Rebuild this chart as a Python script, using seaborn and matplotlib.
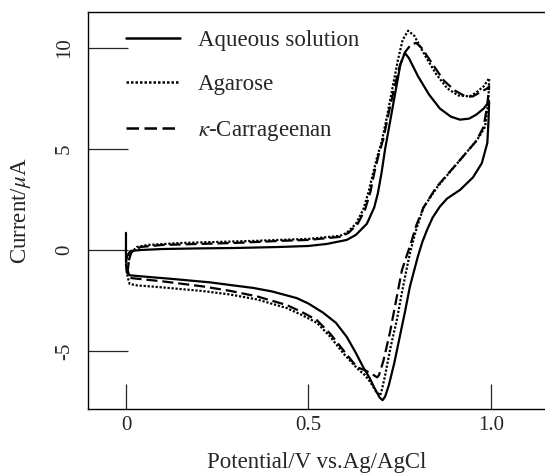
"""
plot.py — cyclic voltammograms in aqueous solution and in two gels
"""

import matplotlib
matplotlib.use("Agg")
import matplotlib.pyplot as plt
import seaborn as sns
import pandas as pd

# ---------------------------------------------------------------------------
# Data (potential in V vs. Ag/AgCl, current in µA)
# ---------------------------------------------------------------------------

AQ_E = [0.0, 0.0, 0.003, 0.012, 0.04, 0.1, 0.2, 0.3, 0.42, 0.5, 0.55, 0.605,
        0.63, 0.66, 0.68, 0.69, 0.70, 0.71, 0.725, 0.74, 0.752, 0.764, 0.775,
        0.8, 0.83, 0.86, 0.89, 0.915, 0.94, 0.96, 0.98, 0.995,
        0.993, 0.99, 0.975, 0.951, 0.915, 0.88, 0.86, 0.84, 0.825, 0.812,
        0.8, 0.778, 0.765, 0.75, 0.735, 0.72, 0.71, 0.703, 0.695, 0.68, 0.668,
        0.65, 0.63, 0.605, 0.575, 0.54, 0.5, 0.468, 0.4, 0.35, 0.285, 0.23,
        0.12, 0.04, 0.01, 0.002, 0.0]
AQ_I = [0.85, -0.6, -0.3, -0.05, 0.0, 0.05, 0.08, 0.1, 0.15, 0.2, 0.3, 0.5,
        0.75, 1.3, 2.1, 2.8, 3.8, 5.0, 6.5, 8.0, 9.2, 9.75, 9.5,
        8.6, 7.7, 7.0, 6.6, 6.45, 6.5, 6.7, 7.0, 7.35,
        6.3, 5.3, 4.3, 3.6, 2.97, 2.55, 2.15, 1.6, 1.0, 0.4,
        -0.3, -1.8, -3.0, -4.3, -5.6, -6.7, -7.25, -7.43, -7.3, -6.8, -6.35,
        -5.8, -5.1, -4.3, -3.6, -3.1, -2.65, -2.38, -2.05, -1.88, -1.73, -1.6,
        -1.42, -1.3, -1.25, -1.1, -0.7]

AG_E = [0.005, 0.01, 0.03, 0.06, 0.15, 0.25, 0.35, 0.42, 0.5, 0.586, 0.605,
        0.63, 0.65, 0.665, 0.677, 0.688, 0.70, 0.715, 0.73, 0.745, 0.758,
        0.773, 0.79, 0.82, 0.85, 0.88, 0.91, 0.942, 0.96, 0.98, 0.995,
        0.993, 0.984, 0.962, 0.915, 0.852, 0.815, 0.795, 0.78, 0.77, 0.755,
        0.742, 0.725, 0.71, 0.70, 0.696, 0.685, 0.67, 0.655, 0.633, 0.595,
        0.56, 0.523, 0.48, 0.44, 0.36, 0.285, 0.21, 0.1, 0.03, 0.01, 0.004,
        0.005]
AG_I = [-0.9, -0.2, 0.15, 0.25, 0.35, 0.4, 0.45, 0.5, 0.55, 0.7, 0.85,
        1.3, 2.0, 2.9, 3.8, 4.6, 5.3, 6.6, 8.0, 9.4, 10.4,
        10.85, 10.6, 9.6, 8.7, 8.0, 7.65, 7.6, 7.8, 8.1, 8.5,
        7.4, 6.1, 5.45, 4.45, 3.1, 2.1, 1.0, 0.0, -0.84, -2.2,
        -3.47, -4.8, -6.2, -7.0, -7.2, -7.0, -6.55, -6.2, -5.85, -5.1,
        -4.3, -3.6, -3.2, -2.87, -2.45, -2.2, -2.03, -1.85, -1.75, -1.68, -1.3,
        -0.9]

KC_E = [0.008, 0.015, 0.04, 0.1, 0.2, 0.3, 0.42, 0.5, 0.586, 0.61, 0.635,
        0.655, 0.67, 0.68, 0.692, 0.705, 0.72, 0.735, 0.75, 0.765, 0.78,
        0.795, 0.81, 0.84, 0.87, 0.9, 0.93, 0.95, 0.97, 0.99, 0.995,
        0.99, 0.98, 0.96, 0.915, 0.85, 0.815, 0.795, 0.78, 0.765,
        0.756, 0.74, 0.723, 0.705, 0.693, 0.688, 0.675, 0.655, 0.633, 0.595,
        0.56, 0.523, 0.48, 0.44, 0.36, 0.285, 0.21, 0.1, 0.03, 0.01, 0.005,
        0.008]
KC_I = [-0.5, -0.1, 0.15, 0.25, 0.3, 0.35, 0.45, 0.5, 0.65, 0.85, 1.3,
        2.0, 2.9, 3.8, 4.7, 5.5, 6.8, 8.0, 9.1, 9.8, 10.15,
        10.25, 10.0, 9.2, 8.4, 7.9, 7.6, 7.6, 7.8, 8.0, 8.1,
        7.2, 6.1, 5.4, 4.45, 3.1, 2.1, 1.2, 0.3, -0.5,
        -1.0, -2.5, -4.1, -5.5, -6.2, -6.3, -6.15, -5.95, -5.8, -4.95,
        -4.15, -3.47, -3.05, -2.72, -2.3, -2.02, -1.8, -1.55, -1.42, -1.38,
        -1.0, -0.5]

SERIES = [
    ("Aqueous solution",        AQ_E, AQ_I, "-"),
    ("Agarose",                 AG_E, AG_I, (0, (1, 0.8))),
    (r"$\kappa$-Carrageenan",   KC_E, KC_I, (0, (5, 2.2))),
]

X_TICKS = [0, 0.5, 1.0]
X_TICKLABELS = ["0", "0.5", "1.0"]
Y_TICKS = [-5, 0, 5, 10]


def main() -> None:
    sns.set_style("ticks")
    plt.rcParams["font.family"] = ["Liberation Serif", "DejaVu Serif"]
    plt.rcParams["mathtext.fontset"] = "stix"

    fig = plt.figure(figsize=(5.45, 4.74), dpi=100)
    ax = fig.add_axes([0.1615, 0.137, 0.8385, 0.8378])

    for label, e, i, ls in SERIES:
        df = pd.DataFrame({"E": e, "I": i})
        sns.lineplot(data=df, x="E", y="I", sort=False, estimator=None,
                     color="black", linewidth=1.6, linestyle=ls,
                     label=label, ax=ax)

    ax.set_xlim(-0.104, 1.148)
    ax.set_ylim(-7.87, 11.78)
    ax.spines["right"].set_visible(False)
    for s in ("left", "bottom", "top"):
        ax.spines[s].set_linewidth(1.0)
        ax.spines[s].set_color("black")

    ax.set_xticks(X_TICKS)
    ax.set_xticklabels(X_TICKLABELS)
    ax.set_yticks(Y_TICKS)
    ax.set_yticklabels([str(t) for t in Y_TICKS], rotation=90, va="center")
    ax.tick_params(axis="x", direction="in", length=18, width=0.9,
                   labelsize=15, pad=5, top=False)
    ax.tick_params(axis="y", direction="in", length=29, width=0.9,
                   labelsize=15, pad=10, right=False)

    ax.set_xlabel("Potential/V vs.Ag/AgCl", fontsize=16.5, labelpad=12)
    ax.set_ylabel(r"Current/$\mu$A", fontsize=16.5, labelpad=16)

    leg = ax.legend(loc="upper left", bbox_to_anchor=(0.083, 0.955),
                    frameon=False, fontsize=16.5, handlelength=2.35,
                    handletextpad=0.78, labelspacing=1.02,
                    borderpad=0, borderaxespad=0)
    for h in leg.get_lines():
        h.set_linewidth(1.8)

    fig.savefig("out.png", dpi=100)
    plt.close(fig)


if __name__ == "__main__":
    main()
